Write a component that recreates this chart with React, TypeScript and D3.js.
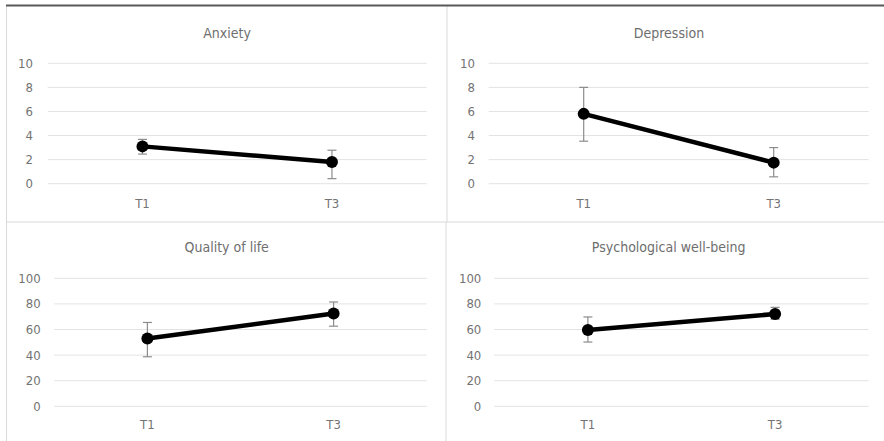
import React from "react";
import * as d3 from "d3";

const times = ["T1", "T3"];

const anxietyMean = [3.1, 1.8];
const anxietyLow = [2.46, 0.42];
const anxietyHigh = [3.68, 2.78];

const depressionMean = [5.8, 1.75];
const depressionLow = [3.53, 0.57];
const depressionHigh = [8.0, 3.0];

const qolMean = [53, 72.5];
const qolLow = [38.7, 62.6];
const qolHigh = [65.5, 81.5];

const pwbMean = [59.6, 72.1];
const pwbLow = [50.2, 68];
const pwbHigh = [69.8, 77.3];

const smallTicks = [0, 2, 4, 6, 8, 10];
const bigTicks = [0, 20, 40, 60, 80, 100];

type Panel = {
  title: string;
  mean: number[];
  low: number[];
  high: number[];
  ticks: number[];
  left: number;
  right: number;
  top: number;
  bottom: number;
  titleX: number;
  titleY: number;
  labelY: number;
  tickRight: number;
};

const FONT = "'Liberation Sans Narrow', 'DejaVu Sans Condensed', 'Roboto', sans-serif";

function ChartPanel({ p }: { p: Panel }) {
  const x = d3.scaleBand<string>().domain(times).range([p.left, p.right]);
  const y = d3.scaleLinear().domain([0, d3.max(p.ticks) || 1]).range([p.bottom, p.top]);
  const cx = (t: string) => (x(t) ?? 0) + x.bandwidth() / 2;
  const line = d3.line<number>().x((_, i) => cx(times[i])).y((d) => y(d));

  return (
    <g>
      <text x={p.titleX} y={p.titleY} textAnchor="middle" dominantBaseline="central"
        fontSize={14} fill="#6e6e6e" fontFamily={FONT}>{p.title}</text>
      {p.ticks.map((t) => (
        <g key={t}>
          <line x1={p.left} x2={p.right} y1={y(t)} y2={y(t)} stroke="#e3e3e3" strokeWidth={1} />
          <text x={p.tickRight} y={y(t)} textAnchor="end" dominantBaseline="central"
            fontSize={13} fill="#737373" fontFamily={FONT}>{t}</text>
        </g>
      ))}
      {times.map((t) => (
        <text key={t} x={cx(t)} y={p.labelY} textAnchor="middle" dominantBaseline="central"
          fontSize={13} fill="#737373" fontFamily={FONT}>{t}</text>
      ))}
      {times.map((t, i) => (
        <g key={t} stroke="#8c8c8c" strokeWidth={1.2}>
          <line x1={cx(t)} x2={cx(t)} y1={y(p.low[i])} y2={y(p.high[i])} />
          <line x1={cx(t) - 4.5} x2={cx(t) + 4.5} y1={y(p.low[i])} y2={y(p.low[i])} />
          <line x1={cx(t) - 4.5} x2={cx(t) + 4.5} y1={y(p.high[i])} y2={y(p.high[i])} />
        </g>
      ))}
      <path d={line(p.mean) || ""} fill="none" stroke="#000" strokeWidth={4.5} />
      {p.mean.map((v, i) => (
        <circle key={i} cx={cx(times[i])} cy={y(v)} r={6} fill="#000" />
      ))}
    </g>
  );
}

export default function App() {
  const panels: Panel[] = [
    { title: "Anxiety", mean: anxietyMean, low: anxietyLow, high: anxietyHigh, ticks: smallTicks,
      left: 47.7, right: 426.7, top: 63.3, bottom: 183.7, titleX: 227, titleY: 33, labelY: 203, tickRight: 33 },
    { title: "Depression", mean: depressionMean, low: depressionLow, high: depressionHigh, ticks: smallTicks,
      left: 488.7, right: 868.7, top: 63.3, bottom: 183.7, titleX: 669, titleY: 33, labelY: 203, tickRight: 475 },
    { title: "Quality of life", mean: qolMean, low: qolLow, high: qolHigh, ticks: bigTicks,
      left: 54.3, right: 426.7, top: 278.3, bottom: 406.3, titleX: 226.7, titleY: 246.7, labelY: 424, tickRight: 40.7 },
    { title: "Psychological well-being", mean: pwbMean, low: pwbLow, high: pwbHigh, ticks: bigTicks,
      left: 494.3, right: 868.7, top: 278.3, bottom: 406.3, titleX: 668.7, titleY: 246.7, labelY: 424, tickRight: 481.3 },
  ];

  return (
    <svg width={884} height={441} style={{ position: "absolute", left: 0, top: 0, background: "#fff" }}>
      <rect x={0} y={0} width={884} height={441} fill="#fff" />
      {/* panel borders */}
      <line x1={6.5} x2={6.5} y1={6} y2={441} stroke="#d9d9d9" />
      <line x1={447} x2={447} y1={6} y2={222} stroke="#d9d9d9" />
      <line x1={446} x2={446} y1={222} y2={441} stroke="#d9d9d9" />
      <line x1={6} x2={884} y1={222} y2={222} stroke="#d9d9d9" />
      <line x1={6} x2={884} y1={5.5} y2={5.5} stroke="#595959" strokeWidth={2} />
      {panels.map((p) => <ChartPanel key={p.title} p={p} />)}
    </svg>
  );
}
